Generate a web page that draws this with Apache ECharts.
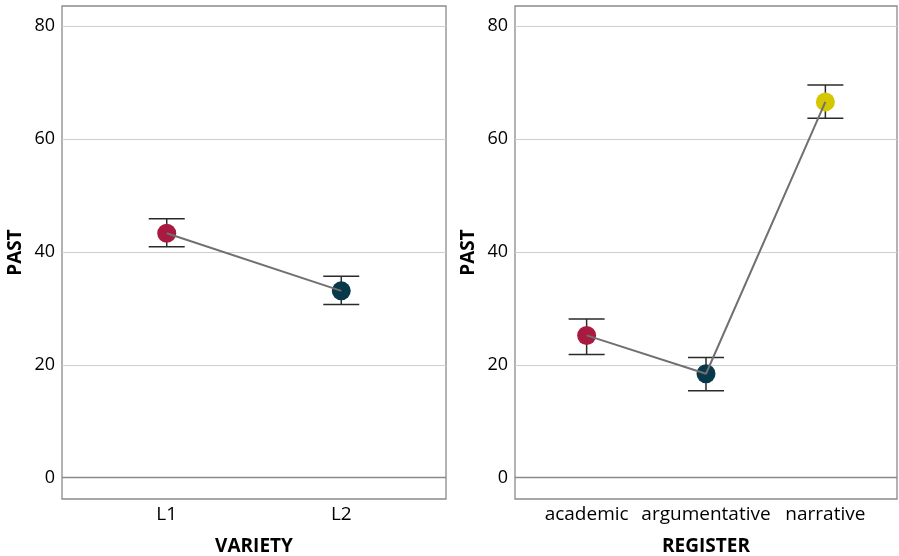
<!DOCTYPE html>
<html>
<head>
<meta charset="utf-8">
<script src="https://cdn.jsdelivr.net/npm/echarts@6/dist/echarts.min.js"></script>
<style>
  html, body { margin: 0; padding: 0; background: #fff; }
  #chart { width: 899px; height: 556px; }
</style>
</head>
<body>
<div id="chart"></div>
<script>
// Past-tense frequency by variety and by register: means with error bars
const varietyCats = ['L1', 'L2'];
const varietyMean = [43.3, 33.1];
const varietyLow = [40.9, 30.7];
const varietyHigh = [45.9, 35.7];

const registerCats = ['academic', 'argumentative', 'narrative'];
const registerMean = [25.2, 18.4, 66.6];
const registerLow = [21.8, 15.4, 63.7];
const registerHigh = [28.1, 21.3, 69.6];

const pointColors = ['#a81a40', '#08394a', '#d4c700'];
const yMin = -3.8, yMax = 83.6;
const yTitle = 'PAST';
const xTitles = ['VARIETY', 'REGISTER'];

const FONT = 'Open Sans';

function xAxisFor(idx, cats, title) {
  const positions = cats.map((_, i) => i + 1);
  return {
    gridIndex: idx, type: 'value', min: 0.4, max: cats.length + 0.6,
    name: title, nameLocation: 'middle', nameGap: 38,
    nameTextStyle: { fontFamily: FONT, fontWeight: 'bold', fontSize: 19, color: '#000' },
    axisLine: { show: false }, axisTick: { show: false }, splitLine: { show: false },
    axisLabel: {
      customValues: positions, margin: 6,
      formatter: v => cats[Math.round(v) - 1] || '',
      fontFamily: FONT, fontSize: 19, color: '#000'
    }
  };
}

function yAxisFor(idx) {
  return {
    gridIndex: idx, type: 'value', min: yMin, max: yMax,
    name: yTitle, nameLocation: 'middle', nameGap: 37, nameRotate: 90,
    nameTextStyle: { fontFamily: FONT, fontWeight: 'bold', fontSize: 19, color: '#000' },
    axisLine: { show: false }, axisTick: { show: false },
    axisLabel: { showMinLabel: false, showMaxLabel: false, margin: 7,
      fontFamily: FONT, fontSize: 18, color: '#000' },
    splitLine: { show: true, showMinLine: false, showMaxLine: false,
      lineStyle: { color: '#cfcfcf', width: 1 } }
  };
}

function errorBars(idx, low, high) {
  return {
    type: 'custom', xAxisIndex: idx, yAxisIndex: idx, z: 2,
    data: low.map((l, i) => [i + 1, l, high[i]]),
    renderItem: (params, api) => {
      const lo = api.coord([api.value(0), api.value(1)]);
      const hi = api.coord([api.value(0), api.value(2)]);
      const hw = 18;
      const st = { stroke: '#2a2a2a', lineWidth: 1.5 };
      return {
        type: 'group', children: [
          { type: 'line', shape: { x1: lo[0], y1: lo[1], x2: hi[0], y2: hi[1] }, style: st },
          { type: 'line', shape: { x1: lo[0] - hw, y1: lo[1], x2: lo[0] + hw, y2: lo[1] }, style: st },
          { type: 'line', shape: { x1: hi[0] - hw, y1: hi[1], x2: hi[0] + hw, y2: hi[1] }, style: st }
        ]
      };
    }
  };
}

function points(idx, mean) {
  return {
    type: 'scatter', xAxisIndex: idx, yAxisIndex: idx, z: 3, symbolSize: 19,
    data: mean.map((m, i) => ({ value: [i + 1, m], itemStyle: { color: pointColors[i], opacity: 1 } })),
    markLine: {
      silent: true, symbol: 'none', label: { show: false }, z: 1,
      lineStyle: { color: '#8a8a8a', width: 1.3, type: 'solid' },
      data: [{ yAxis: 0 }]
    }
  };
}

function meanLine(idx, mean) {
  return {
    type: 'line', xAxisIndex: idx, yAxisIndex: idx, z: 4, showSymbol: false,
    lineStyle: { color: '#707070', width: 2 },
    data: mean.map((m, i) => [i + 1, m])
  };
}

const gridBase = { top: 6, bottom: 57, show: true, borderColor: '#8a8a8a', borderWidth: 1.3,
  containLabel: false, outerBoundsMode: 'none' };

const chart = echarts.init(document.getElementById('chart'));
chart.setOption({
  animation: false,
  backgroundColor: '#fff',
  grid: [
    Object.assign({ left: 62, right: 453 }, gridBase),
    Object.assign({ left: 515, right: 2 }, gridBase)
  ],
  xAxis: [xAxisFor(0, varietyCats, xTitles[0]), xAxisFor(1, registerCats, xTitles[1])],
  yAxis: [yAxisFor(0), yAxisFor(1)],
  series: [
    errorBars(0, varietyLow, varietyHigh), points(0, varietyMean), meanLine(0, varietyMean),
    errorBars(1, registerLow, registerHigh), points(1, registerMean), meanLine(1, registerMean)
  ]
});
</script>
</body>
</html>
